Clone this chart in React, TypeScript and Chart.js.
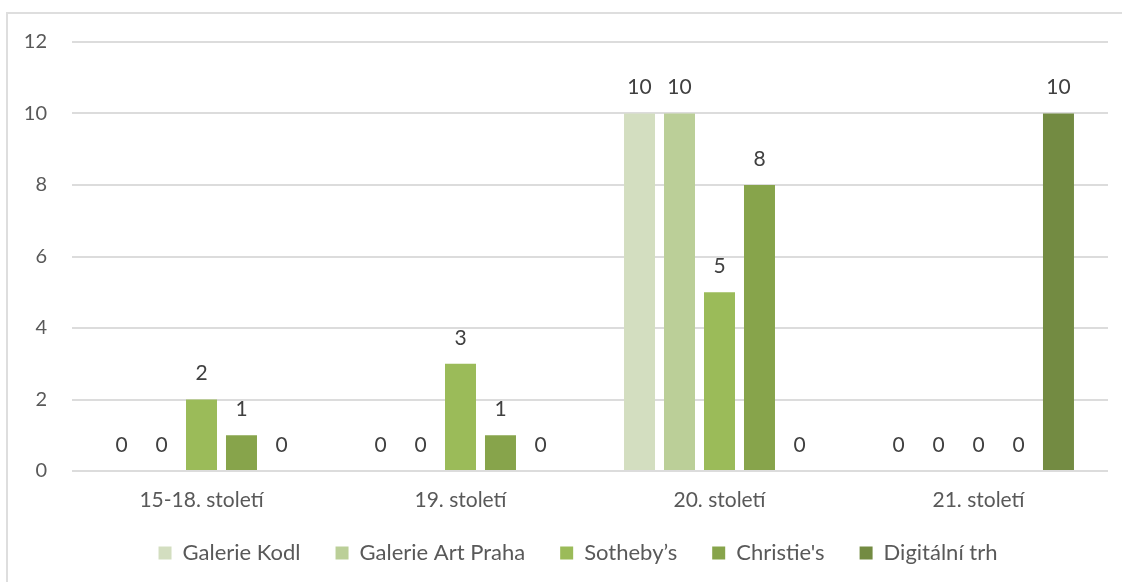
import React, { useEffect, useRef } from "react";
import { Chart, registerables } from "chart.js";

Chart.register(...registerables);

const categories = ["15-18. století", "19. století", "20. století", "21. století"];
const seriesNames = ["Galerie Kodl", "Galerie Art Praha", "Sotheby’s", "Christie's", "Digitální trh"];
const galerieKodl = [0, 0, 10, 0];
const galerieArtPraha = [0, 0, 10, 0];
const sothebys = [2, 3, 5, 0];
const christies = [1, 1, 8, 0];
const digitalniTrh = [0, 0, 0, 10];
const seriesColors = ["#D3DEC0", "#BBCF98", "#9BBB59", "#87A44B", "#738B42"];
const yTicks = [0, 2, 4, 6, 8, 10, 12];

const FONT = "Lato, 'Open Sans', sans-serif";

const dataLabelPlugin = {
  id: "dataLabels",
  afterDatasetsDraw(chart: any) {
    const ctx = chart.ctx;
    ctx.save();
    ctx.font = `21px ${FONT}`;
    ctx.fillStyle = "#404040";
    ctx.textAlign = "center";
    ctx.textBaseline = "middle";
    chart.data.datasets.forEach((ds: any, i: number) => {
      const meta = chart.getDatasetMeta(i);
      meta.data.forEach((bar: any, j: number) => {
        ctx.fillText(String(ds.data[j]), bar.x, bar.y - 26);
      });
    });
    ctx.restore();
  },
};

const legendShiftPlugin = {
  id: "legendShift",
  afterLayout(chart: any) {
    if (chart.legend) {
      chart.legend.left += 24;
      chart.legend.right += 24;
    }
  },
};

export default function App() {
  const ref = useRef<HTMLCanvasElement>(null);
  useEffect(() => {
    const allData = [galerieKodl, galerieArtPraha, sothebys, christies, digitalniTrh];
    const chart = new Chart(ref.current!, {
      type: "bar",
      data: {
        labels: categories,
        datasets: seriesNames.map((name, i) => ({
          label: name,
          data: allData[i],
          backgroundColor: seriesColors[i],
          borderWidth: 0,
          categoryPercentage: 0.772,
          barPercentage: 0.775,
        })),
      },
      options: {
        animation: false,
        responsive: false,
        maintainAspectRatio: false,
        layout: { padding: { left: 0, top: 42, right: 14, bottom: 8 } },
        plugins: {
          tooltip: { enabled: false },
          legend: {
            position: "bottom",
            labels: {
              boxWidth: 13,
              boxHeight: 13,
              padding: 35,
              color: "#595959",
              font: { family: FONT, size: 22 },
            },
          },
        },
        scales: {
          x: {
            grid: { display: false, drawTicks: false },
            border: { display: false },
            ticks: { color: "#595959", font: { family: FONT, size: 21 }, padding: 17 },
            afterFit: (s: any) => { s.height = 36; },
          },
          y: {
            min: 0,
            max: 12,
            afterBuildTicks: (s: any) => { s.ticks = yTicks.map((v) => ({ value: v })); },
            grid: { color: "#dcdcdc", lineWidth: 2, drawTicks: false },
            border: { display: false },
            ticks: { color: "#595959", font: { family: FONT, size: 20 }, padding: 25 },
            afterFit: (s: any) => { s.width = 72; },
          },
        },
      },
      plugins: [dataLabelPlugin, legendShiftPlugin],
    });
    return () => chart.destroy();
  }, []);
  return (
    <div style={{ position: "fixed", left: 0, top: 0, width: 1122, height: 582, background: "#fff" }}>
      <div
        style={{
          position: "absolute",
          left: 6,
          top: 12,
          width: 1116,
          height: 570,
          borderLeft: "2px solid #dedede",
          borderTop: "2px solid #dedede",
        }}
      />
      <canvas ref={ref} width={1122} height={582} style={{ position: "absolute", left: 0, top: 0 }} />
    </div>
  );
}
